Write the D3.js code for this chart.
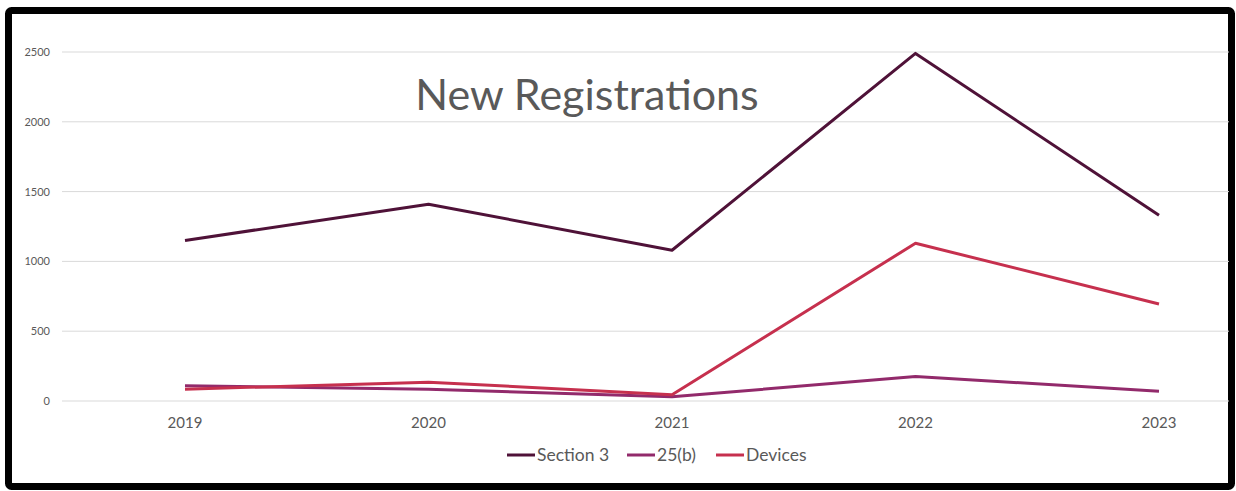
<!DOCTYPE html>
<html>
<head>
<meta charset="utf-8">
<script src="https://cdn.jsdelivr.net/npm/d3@7"></script>
<style>
  body { margin: 0; background: #fff; }
  svg { display: block; }
  text { font-family: Lato, "Open Sans", sans-serif; fill: #595959; }
</style>
</head>
<body>
<div id="chart"></div>
<script>
// values
var years = ['2019', '2020', '2021', '2022', '2023'];
var section3 = [1150, 1410, 1080, 2490, 1330];
var b25 = [110, 85, 30, 175, 70];
var devices = [85, 135, 45, 1130, 695];
var yTicks = [0, 500, 1000, 1500, 2000, 2500];

var seriesNames = ['Section 3', '25(b)', 'Devices'];
var seriesColors = ['#4f1238', '#922a6b', '#c6304e'];
var seriesValues = [section3, b25, devices];

var W = 1236, H = 491;

var svg = d3.select('#chart').append('svg')
    .attr('width', W)
    .attr('height', H);

// black frame
svg.append('rect')
    .attr('x', 8.5).attr('y', 10.5)
    .attr('width', 1223).attr('height', 476)
    .attr('rx', 3)
    .attr('fill', '#fff')
    .attr('stroke', '#000')
    .attr('stroke-width', 7);

var x = d3.scalePoint().domain(years).range([185, 1159]);
var y = d3.scaleLinear().domain([0, 2500]).range([401, 52]);

var gridLeft = 62, gridRight = 1229;

// gridlines
svg.append('g').selectAll('line')
    .data(yTicks)
    .join('line')
    .attr('x1', gridLeft).attr('x2', gridRight)
    .attr('y1', d => y(d)).attr('y2', d => y(d))
    .attr('stroke', '#d9d9d9')
    .attr('stroke-width', 1);

// y labels
svg.append('g').selectAll('text')
    .data(yTicks)
    .join('text')
    .attr('x', 50)
    .attr('y', d => y(d) + 4)
    .attr('text-anchor', 'end')
    .style('font-size', '11px')
    .text(d => d);

// x labels
svg.append('g').selectAll('text')
    .data(years)
    .join('text')
    .attr('x', d => x(d))
    .attr('y', 428)
    .attr('text-anchor', 'middle')
    .style('font-size', '15px')
    .text(d => d);

// lines
var line = d3.line()
    .x((d, i) => x(years[i]))
    .y(d => y(d));

svg.append('g').selectAll('path')
    .data(seriesValues)
    .join('path')
    .attr('d', d => line(d))
    .attr('fill', 'none')
    .attr('stroke', (d, i) => seriesColors[i])
    .attr('stroke-width', 3)
    .attr('stroke-linejoin', 'round');

// title
svg.append('text')
    .attr('x', 587)
    .attr('y', 110)
    .attr('text-anchor', 'middle')
    .style('font-size', '43px')
    .text('New Registrations');

// legend
var legendX = [507, 627, 716];
var lg = svg.append('g').selectAll('g')
    .data(seriesNames)
    .join('g')
    .attr('transform', (d, i) => 'translate(' + legendX[i] + ',455)');
lg.append('line')
    .attr('x1', 0).attr('x2', 28)
    .attr('stroke', (d, i) => seriesColors[i])
    .attr('stroke-width', 3);
lg.append('text')
    .attr('x', 30)
    .attr('y', 6)
    .style('font-size', '17.5px')
    .text(d => d);
</script>
</body>
</html>
